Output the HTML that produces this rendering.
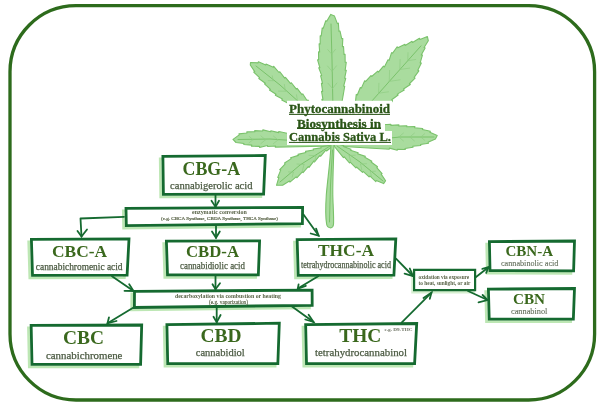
<!DOCTYPE html>
<html><head><meta charset="utf-8"><style>
html,body{margin:0;padding:0;background:#fff;width:600px;height:407px;overflow:hidden}
svg{display:block;will-change:transform}
</style></head><body><svg width="600" height="407" viewBox="0 0 600 407"><rect x="10" y="5.7" width="584.6" height="394.3" rx="66" ry="66" fill="none" stroke="#2d6b1c" stroke-width="3.3"/><defs><filter id="lb" x="-5%" y="-5%" width="110%" height="110%"><feGaussianBlur stdDeviation="0.35"/></filter></defs><g filter="url(#lb)"><path d="M330.8,14.4 L326.75,21.25 L325.76,20.76 L323.2,28.42 L322.22,27.93 L321.24,36.04 L320.16,35.82 L320.21,43.92 L319.11,43.84 L319.62,51.92 L318.53,51.76 L318.64,59.73 L317.56,59.89 L319.83,67.64 L318.74,67.81 L321.67,75.39 L320.6,75.66 L322.53,83.36 L321.43,83.36 L322.64,91.35 L321.54,91.39 L322.96,99.34 L321.86,99.39 L333,145 L338,125 L344.73,86.28 L343.64,86.14 L345.74,78.34 L344.65,78.2 L346.27,70.27 L345.17,70.27 L346.27,62.27 L345.17,62.27 L345.07,54.23 L344.0,54.51 L343.53,46.53 L342.43,46.63 L342.81,38.57 L341.72,38.66 L340.02,31.13 L338.94,31.31 L338.37,23.14 L337.36,23.58 L334.5,16.1 Z" fill="#a9dc9e" stroke="#7ac26b" stroke-width="1.1" stroke-linejoin="round"/><path d="M331,24 L332,60 L333,110" fill="none" stroke="#7ac26b" stroke-width="1" stroke-linecap="round"/><path d="M332.5,88.5 L336.9,83.0" stroke="#8fcd82" stroke-width="0.7" fill="none" stroke-linecap="round"/><path d="M332.5,88.5 L327.9,83.2" stroke="#8fcd82" stroke-width="0.7" fill="none" stroke-linecap="round"/><path d="M332.1,71.3 L336.5,65.8" stroke="#8fcd82" stroke-width="0.7" fill="none" stroke-linecap="round"/><path d="M332.1,71.3 L327.5,66.0" stroke="#8fcd82" stroke-width="0.7" fill="none" stroke-linecap="round"/><path d="M331.7,54.1 L335.4,49.4" stroke="#8fcd82" stroke-width="0.7" fill="none" stroke-linecap="round"/><path d="M331.7,54.1 L327.7,49.6" stroke="#8fcd82" stroke-width="0.7" fill="none" stroke-linecap="round"/><path d="M250.5,62.5 L258.05,62.84 L258.43,61.81 L265.76,65.08 L265.97,64.0 L273.35,67.31 L273.74,66.29 L279.02,72.49 L279.8,71.71 L284.72,78.12 L285.46,77.31 L290.61,83.53 L291.36,82.72 L296.34,89.11 L297.11,88.32 L301.98,94.65 L302.82,93.94 L307.19,100.72 L308.03,100.0 L333,145 L328,145 L293.9,110.12 L294.68,109.34 L288.21,104.5 L288.99,103.72 L281.76,99.97 L282.41,99.08 L275.34,95.19 L276.0,94.31 L269.46,89.93 L270.44,89.44 L264.53,83.95 L265.34,83.22 L258.8,78.54 L259.51,77.7 L253.73,72.09 L254.74,71.66 L250.3,65 Z" fill="#a9dc9e" stroke="#7ac26b" stroke-width="1.1" stroke-linejoin="round"/><path d="M256,66 L280,85 L300,103 L325,135" fill="none" stroke="#7ac26b" stroke-width="1" stroke-linecap="round"/><path d="M297.6,101.7 L296.5,94.8" stroke="#8fcd82" stroke-width="0.7" fill="none" stroke-linecap="round"/><path d="M297.6,101.7 L290.7,101.6" stroke="#8fcd82" stroke-width="0.7" fill="none" stroke-linecap="round"/><path d="M285.4,91.2 L284.3,84.3" stroke="#8fcd82" stroke-width="0.7" fill="none" stroke-linecap="round"/><path d="M285.4,91.2 L278.4,91.1" stroke="#8fcd82" stroke-width="0.7" fill="none" stroke-linecap="round"/><path d="M273.1,80.7 L272.3,75.8" stroke="#8fcd82" stroke-width="0.7" fill="none" stroke-linecap="round"/><path d="M273.1,80.7 L268.2,80.6" stroke="#8fcd82" stroke-width="0.7" fill="none" stroke-linecap="round"/><path d="M427.4,36.6 L419.94,39.42 L419.48,38.31 L412.53,42.45 L412.08,41.34 L405.17,45.41 L404.98,44.23 L397.85,47.75 L397.19,46.75 L392.63,53.19 L391.55,52.66 L389.1,60.37 L388.02,59.84 L384.38,66.88 L383.48,66.09 L378.39,72.2 L377.74,71.2 L371.66,76.53 L371.01,75.53 L365.69,81.43 L364.7,80.76 L361.36,88.13 L360.33,87.52 L357.3,95.02 L356.26,94.41 L355.38,102.67 L354.29,102.18 L335,145 L340,145 L377.72,118.86 L376.9,117.99 L383.54,113.37 L382.72,112.5 L389.36,107.88 L388.53,107.01 L392.53,100.65 L391.68,99.81 L398.14,94.95 L397.29,94.11 L404.27,89.96 L403.52,89.03 L410.31,84.48 L409.35,83.76 L415.1,78.07 L414.14,77.35 L418.87,70.86 L417.8,70.31 L421.35,63.08 L420.16,62.91 L422.42,55.15 L421.23,54.99 L425.14,48.1 L424.09,47.51 L428.3,40.7 Z" fill="#a9dc9e" stroke="#7ac26b" stroke-width="1.1" stroke-linejoin="round"/><path d="M421,45.9 L395,75 L371,102 L345,130" fill="none" stroke="#7ac26b" stroke-width="1" stroke-linecap="round"/><path d="M378.6,93.2 L388.5,91.8" stroke="#8fcd82" stroke-width="0.7" fill="none" stroke-linecap="round"/><path d="M378.6,93.2 L378.9,83.2" stroke="#8fcd82" stroke-width="0.7" fill="none" stroke-linecap="round"/><path d="M389.2,81.4 L400.1,79.8" stroke="#8fcd82" stroke-width="0.7" fill="none" stroke-linecap="round"/><path d="M389.2,81.4 L389.6,70.4" stroke="#8fcd82" stroke-width="0.7" fill="none" stroke-linecap="round"/><path d="M399.8,69.5 L409.7,68.1" stroke="#8fcd82" stroke-width="0.7" fill="none" stroke-linecap="round"/><path d="M399.8,69.5 L400.1,59.5" stroke="#8fcd82" stroke-width="0.7" fill="none" stroke-linecap="round"/><path d="M407.8,60.7 L415.7,59.5" stroke="#8fcd82" stroke-width="0.7" fill="none" stroke-linecap="round"/><path d="M407.8,60.7 L408.0,52.7" stroke="#8fcd82" stroke-width="0.7" fill="none" stroke-linecap="round"/><path d="M233,139.4 L239.24,134.91 L238.97,133.84 L247.0,132.98 L246.74,131.92 L254.84,131.73 L254.72,130.63 L262.72,130.96 L262.84,129.86 L270.68,131.78 L270.8,130.69 L278.64,132.6 L278.75,131.5 L333,143 L333,146 L275.33,147.12 L275.46,146.03 L267.56,146.52 L267.43,145.43 L259.61,147.43 L259.49,146.34 L251.53,146.2 L251.79,145.13 L243.77,144.56 L243.95,143.48 L236,142.5 Z" fill="#a9dc9e" stroke="#7ac26b" stroke-width="1.1" stroke-linejoin="round"/><path d="M238,139.5 L270,139 L300,141 L330,144" fill="none" stroke="#7ac26b" stroke-width="1" stroke-linecap="round"/><path d="M278.0,139.9 L273.4,136.0" stroke="#8fcd82" stroke-width="0.7" fill="none" stroke-linecap="round"/><path d="M278.0,139.9 L273.4,143.7" stroke="#8fcd82" stroke-width="0.7" fill="none" stroke-linecap="round"/><path d="M265.5,139.8 L260.9,135.9" stroke="#8fcd82" stroke-width="0.7" fill="none" stroke-linecap="round"/><path d="M265.5,139.8 L260.9,143.6" stroke="#8fcd82" stroke-width="0.7" fill="none" stroke-linecap="round"/><path d="M253.0,139.7 L249.2,136.4" stroke="#8fcd82" stroke-width="0.7" fill="none" stroke-linecap="round"/><path d="M253.0,139.7 L249.1,142.8" stroke="#8fcd82" stroke-width="0.7" fill="none" stroke-linecap="round"/><path d="M437.2,135.4 L429.85,132.22 L430.33,131.23 L422.45,129.52 L422.7,128.45 L414.65,127.73 L414.9,126.66 L406.76,126.78 L406.87,125.69 L398.8,126.0 L398.91,124.91 L390.84,125.34 L390.91,124.25 L382.86,124.79 L382.93,123.69 L335,143 L335,146 L389.27,149.23 L389.42,148.14 L397.2,150.31 L397.34,149.22 L405.3,149.48 L405.01,148.42 L413.0,147.31 L412.71,146.25 L420.76,145.55 L420.53,144.48 L428.55,143.21 L428.07,142.22 L435.4,139 Z" fill="#a9dc9e" stroke="#7ac26b" stroke-width="1.1" stroke-linejoin="round"/><path d="M434,137 L400,137 L370,140 L336,144" fill="none" stroke="#7ac26b" stroke-width="1" stroke-linecap="round"/><path d="M398.8,137.0 L403.4,140.9" stroke="#8fcd82" stroke-width="0.7" fill="none" stroke-linecap="round"/><path d="M398.8,137.0 L403.4,133.1" stroke="#8fcd82" stroke-width="0.7" fill="none" stroke-linecap="round"/><path d="M409.8,137.0 L414.4,140.9" stroke="#8fcd82" stroke-width="0.7" fill="none" stroke-linecap="round"/><path d="M409.8,137.0 L414.4,133.1" stroke="#8fcd82" stroke-width="0.7" fill="none" stroke-linecap="round"/><path d="M420.8,137.0 L424.6,140.2" stroke="#8fcd82" stroke-width="0.7" fill="none" stroke-linecap="round"/><path d="M420.8,137.0 L424.6,133.8" stroke="#8fcd82" stroke-width="0.7" fill="none" stroke-linecap="round"/><path d="M276.5,185.3 L278.81,177.63 L277.74,177.36 L280.8,169.89 L279.73,169.61 L285.27,163.9 L284.55,163.07 L291.3,158.64 L290.58,157.81 L298.43,155.39 L298.02,154.36 L305.84,152.44 L305.51,151.39 L313.47,150.06 L313.15,149.01 L321.13,147.84 L320.88,146.77 L330,145.4 L333,146 L326.53,150.95 L325.8,150.13 L320.57,156.29 L319.84,155.47 L314.74,161.71 L313.97,160.93 L309.03,167.32 L308.26,166.53 L303.03,172.7 L302.34,171.85 L296.83,177.76 L296.14,176.9 L289.95,182.05 L289.41,181.09 L282.6,185.3 Z" fill="#a9dc9e" stroke="#7ac26b" stroke-width="1.1" stroke-linejoin="round"/><path d="M280,182 L300,165 L330,146" fill="none" stroke="#7ac26b" stroke-width="1" stroke-linecap="round"/><path d="M316.0,155.8 L309.0,155.3" stroke="#8fcd82" stroke-width="0.7" fill="none" stroke-linecap="round"/><path d="M316.0,155.8 L314.3,162.5" stroke="#8fcd82" stroke-width="0.7" fill="none" stroke-linecap="round"/><path d="M304.0,164.5 L297.0,164.0" stroke="#8fcd82" stroke-width="0.7" fill="none" stroke-linecap="round"/><path d="M304.0,164.5 L302.3,171.3" stroke="#8fcd82" stroke-width="0.7" fill="none" stroke-linecap="round"/><path d="M293.4,172.2 L288.5,171.9" stroke="#8fcd82" stroke-width="0.7" fill="none" stroke-linecap="round"/><path d="M293.4,172.2 L292.2,177.1" stroke="#8fcd82" stroke-width="0.7" fill="none" stroke-linecap="round"/><path d="M385.6,180.8 L381.16,174.14 L382.1,173.56 L376.79,167.57 L377.57,166.79 L371.11,161.94 L371.88,161.16 L364.82,157.34 L365.31,156.36 L357.65,153.79 L358.14,152.8 L350.5,150.2 L350.99,149.22 L343.35,146.6 L343.85,145.62 L335.7,143.4 L334,146 L343.43,157.56 L344.3,156.88 L349.48,163.0 L350.16,162.14 L355.87,167.91 L356.49,166.99 L362.53,172.35 L363.14,171.43 L369.11,176.86 L369.74,175.96 L375.83,181.56 L376.21,180.52 L383.6,183.6 Z" fill="#a9dc9e" stroke="#7ac26b" stroke-width="1.1" stroke-linejoin="round"/><path d="M337,146 L360,162 L383,181" fill="none" stroke="#7ac26b" stroke-width="1" stroke-linecap="round"/><path d="M349.2,155.5 L350.6,161.3" stroke="#8fcd82" stroke-width="0.7" fill="none" stroke-linecap="round"/><path d="M349.2,155.5 L355.2,155.2" stroke="#8fcd82" stroke-width="0.7" fill="none" stroke-linecap="round"/><path d="M360.5,164.0 L361.8,169.8" stroke="#8fcd82" stroke-width="0.7" fill="none" stroke-linecap="round"/><path d="M360.5,164.0 L366.5,163.7" stroke="#8fcd82" stroke-width="0.7" fill="none" stroke-linecap="round"/><path d="M370.4,171.5 L371.5,176.4" stroke="#8fcd82" stroke-width="0.7" fill="none" stroke-linecap="round"/><path d="M370.4,171.5 L375.4,171.2" stroke="#8fcd82" stroke-width="0.7" fill="none" stroke-linecap="round"/><path d="M331,144 C330.5,160 327.5,180 326.3,195 C325.5,207 325.6,218 326.6,224 C327.3,228.5 332.8,229.5 333.5,224.5 C334,218 333,205 332.8,195 C332.6,180 333.6,160 334,144 Z" fill="#a9dc9e" stroke="#7ac26b" stroke-width="1.1"/><path d="M332.5,150 L330.5,185 L329.5,222" fill="none" stroke="#7ac26b" stroke-width="1" stroke-linecap="round"/></g><rect x="287" y="100.8" width="105" height="16.200000000000003" fill="#fff"/><rect x="296" y="117" width="89" height="14" fill="#fff"/><rect x="287" y="131" width="105" height="14" fill="#fff"/><text x="339.5" y="113.3" font-family="Liberation Serif" font-size="12.5" font-weight="bold" fill="#2a5517" text-anchor="middle" textLength="101" lengthAdjust="spacingAndGlyphs" stroke="#2a5517" stroke-width="0.3">Phytocannabinoid</text><text x="339" y="127.5" font-family="Liberation Serif" font-size="12.5" font-weight="bold" fill="#2a5517" text-anchor="middle" textLength="84" lengthAdjust="spacingAndGlyphs" stroke="#2a5517" stroke-width="0.3">Biosynthesis in</text><text x="340" y="141.2" font-family="Liberation Serif" font-size="12.5" font-weight="bold" fill="#2a5517" text-anchor="middle" textLength="102" lengthAdjust="spacingAndGlyphs" stroke="#2a5517" stroke-width="0.3">Cannabis Sativa L.</text><rect x="289" y="113.9" width="101" height="1" fill="#2a5517"/><rect x="297" y="128" width="84" height="1" fill="#2a5517"/><rect x="289" y="141.9" width="102" height="1" fill="#2a5517"/><path d="M160.20,158.90 L262.60,158.00 L260.90,196.60 L160.70,196.80 Z" fill="none" stroke="#bde7b4" stroke-width="2.7"/><path d="M162.90,156.40 L265.30,155.50 L263.60,194.10 L163.40,194.30 Z" fill="#fff" stroke="#156a30" stroke-width="2.8" stroke-linejoin="miter"/><path d="M123.30,210.90 L299.90,209.80 L299.70,226.10 L123.60,228.10 Z" fill="none" stroke="#bde7b4" stroke-width="2.7"/><path d="M126.00,208.40 L302.60,207.30 L302.40,223.60 L126.30,225.60 Z" fill="#fff" stroke="#156a30" stroke-width="2.8" stroke-linejoin="miter"/><path d="M28.70,241.90 L126.30,241.30 L124.40,277.60 L29.80,277.80 Z" fill="none" stroke="#bde7b4" stroke-width="2.7"/><path d="M31.40,239.40 L129.00,238.80 L127.10,275.10 L32.50,275.30 Z" fill="#fff" stroke="#156a30" stroke-width="2.8" stroke-linejoin="miter"/><path d="M163.70,243.70 L256.90,243.30 L255.65,277.35 L164.80,277.30 Z" fill="none" stroke="#bde7b4" stroke-width="2.7"/><path d="M166.40,241.20 L259.60,240.80 L258.35,274.85 L167.50,274.80 Z" fill="#fff" stroke="#156a30" stroke-width="2.8" stroke-linejoin="miter"/><path d="M294.45,242.15 L393.10,241.30 L391.20,277.70 L295.50,277.80 Z" fill="none" stroke="#bde7b4" stroke-width="2.7"/><path d="M297.15,239.65 L395.80,238.80 L393.90,275.20 L298.20,275.30 Z" fill="#fff" stroke="#156a30" stroke-width="2.8" stroke-linejoin="miter"/><path d="M131.80,293.80 L309.40,292.60 L309.50,307.80 L131.70,310.00 Z" fill="none" stroke="#bde7b4" stroke-width="2.7"/><path d="M134.50,291.30 L312.10,290.10 L312.20,305.30 L134.40,307.50 Z" fill="#fff" stroke="#156a30" stroke-width="2.8" stroke-linejoin="miter"/><path d="M486.70,244.15 L571.80,243.50 L570.90,273.35 L487.30,273.10 Z" fill="none" stroke="#bde7b4" stroke-width="2.7"/><path d="M489.40,241.65 L574.50,241.00 L573.60,270.85 L490.00,270.60 Z" fill="#fff" stroke="#156a30" stroke-width="2.8" stroke-linejoin="miter"/><path d="M485.70,291.65 L571.80,291.00 L570.65,321.60 L486.50,321.60 Z" fill="none" stroke="#bde7b4" stroke-width="2.7"/><path d="M488.40,289.15 L574.50,288.50 L573.35,319.10 L489.20,319.10 Z" fill="#fff" stroke="#156a30" stroke-width="2.8" stroke-linejoin="miter"/><path d="M28.45,327.90 L139.00,327.50 L137.90,366.85 L29.30,366.80 Z" fill="none" stroke="#bde7b4" stroke-width="2.7"/><path d="M31.15,325.40 L141.70,325.00 L140.60,364.35 L32.00,364.30 Z" fill="#fff" stroke="#156a30" stroke-width="2.8" stroke-linejoin="miter"/><path d="M164.20,327.15 L276.60,325.70 L275.15,366.10 L165.00,366.10 Z" fill="none" stroke="#bde7b4" stroke-width="2.7"/><path d="M166.90,324.65 L279.30,323.20 L277.85,363.60 L167.70,363.60 Z" fill="#fff" stroke="#156a30" stroke-width="2.8" stroke-linejoin="miter"/><path d="M302.95,327.15 L414.00,326.00 L411.90,366.10 L303.80,366.10 Z" fill="none" stroke="#bde7b4" stroke-width="2.7"/><path d="M305.65,324.65 L416.70,323.50 L414.60,363.60 L306.50,363.60 Z" fill="#fff" stroke="#156a30" stroke-width="2.8" stroke-linejoin="miter"/><path d="M412.60,271.90 L473.60,271.90 L473.60,292.20 L412.60,292.20 Z" fill="none" stroke="#d6f0d0" stroke-width="2.7"/><path d="M414.10,269.90 L475.10,269.90 L475.10,290.20 L414.10,290.20 Z" fill="#fff" stroke="#156a30" stroke-width="2.2" stroke-linejoin="miter"/><path d="M215.5,195 L215.5,206.9" fill="none" stroke="#156a30" stroke-width="1.8" stroke-linecap="round" stroke-linejoin="round"/><path d="M211.5,200.8 L215.5,206.9 L219,200.8" fill="none" stroke="#156a30" stroke-width="1.8" stroke-linecap="round" stroke-linejoin="miter"/><path d="M124,216.8 L80.5,218.5 L81.5,236.5" fill="none" stroke="#156a30" stroke-width="1.8" stroke-linecap="round" stroke-linejoin="round"/><path d="M77.5,231 L81.5,236.5 L87,229.5" fill="none" stroke="#156a30" stroke-width="1.8" stroke-linecap="round" stroke-linejoin="miter"/><path d="M216,225 L216,237.8" fill="none" stroke="#156a30" stroke-width="1.8" stroke-linecap="round" stroke-linejoin="round"/><path d="M212,231.5 L216,237.8 L219.8,231.5" fill="none" stroke="#156a30" stroke-width="1.8" stroke-linecap="round" stroke-linejoin="miter"/><path d="M303.5,214.5 L318.6,235.6" fill="none" stroke="#156a30" stroke-width="1.8" stroke-linecap="round" stroke-linejoin="round"/><path d="M316.1,228.6 L318.6,235.6 L310.7,233.5" fill="none" stroke="#156a30" stroke-width="1.8" stroke-linecap="round" stroke-linejoin="miter"/><path d="M112,276.3 L133.5,291" fill="none" stroke="#156a30" stroke-width="1.8" stroke-linecap="round" stroke-linejoin="round"/><path d="M129.2,284.3 L133.5,291 L124.5,290.8" fill="none" stroke="#156a30" stroke-width="1.8" stroke-linecap="round" stroke-linejoin="miter"/><path d="M215.5,276 L215.5,289.2" fill="none" stroke="#156a30" stroke-width="1.8" stroke-linecap="round" stroke-linejoin="round"/><path d="M212.5,284.2 L215.5,289.2 L220,283.2" fill="none" stroke="#156a30" stroke-width="1.8" stroke-linecap="round" stroke-linejoin="miter"/><path d="M318.2,276.3 L297.8,288.6" fill="none" stroke="#156a30" stroke-width="1.8" stroke-linecap="round" stroke-linejoin="round"/><path d="M298.6,284.4 L297.8,288.6 L305.8,285.8" fill="none" stroke="#156a30" stroke-width="1.8" stroke-linecap="round" stroke-linejoin="miter"/><path d="M396,258.6 L413,276" fill="none" stroke="#156a30" stroke-width="1.8" stroke-linecap="round" stroke-linejoin="round"/><path d="M409.8,268.5 L413,276 L404.6,273.6" fill="none" stroke="#156a30" stroke-width="1.8" stroke-linecap="round" stroke-linejoin="miter"/><path d="M476,277 L488.5,267.2" fill="none" stroke="#156a30" stroke-width="1.8" stroke-linecap="round" stroke-linejoin="round"/><path d="M482.3,268.9 L488.5,267.2 L486.2,272.8" fill="none" stroke="#156a30" stroke-width="1.8" stroke-linecap="round" stroke-linejoin="miter"/><path d="M468,291 L487.5,300" fill="none" stroke="#156a30" stroke-width="1.8" stroke-linecap="round" stroke-linejoin="round"/><path d="M482.6,295 L487.5,300 L478.5,302.3" fill="none" stroke="#156a30" stroke-width="1.8" stroke-linecap="round" stroke-linejoin="miter"/><path d="M133.5,307.5 L107.5,323.2" fill="none" stroke="#156a30" stroke-width="1.8" stroke-linecap="round" stroke-linejoin="round"/><path d="M109,317.3 L107.5,323.2 L116.5,321" fill="none" stroke="#156a30" stroke-width="1.8" stroke-linecap="round" stroke-linejoin="miter"/><path d="M216.7,307.6 L216.7,322.2" fill="none" stroke="#156a30" stroke-width="1.8" stroke-linecap="round" stroke-linejoin="round"/><path d="M213.5,316.8 L216.7,322.2 L220.6,315" fill="none" stroke="#156a30" stroke-width="1.8" stroke-linecap="round" stroke-linejoin="miter"/><path d="M292,306.5 L313.5,322" fill="none" stroke="#156a30" stroke-width="1.8" stroke-linecap="round" stroke-linejoin="round"/><path d="M308.6,314.7 L313.5,322 L305.3,319.5" fill="none" stroke="#156a30" stroke-width="1.8" stroke-linecap="round" stroke-linejoin="miter"/><path d="M401.6,322.6 L431.5,292.7" fill="none" stroke="#156a30" stroke-width="1.8" stroke-linecap="round" stroke-linejoin="round"/><path d="M423.5,298 L431.5,292.7 L429.8,298.8" fill="none" stroke="#156a30" stroke-width="1.8" stroke-linecap="round" stroke-linejoin="miter"/><text x="211.3" y="174.6" font-family="Liberation Serif" font-size="19" font-weight="bold" fill="#3a681d" text-anchor="middle" textLength="57.5" lengthAdjust="spacingAndGlyphs">CBG-A</text><text x="211.3" y="188.6" font-family="Liberation Serif" font-size="11" font-weight="normal" fill="#4b5a42" text-anchor="middle" textLength="82.5" lengthAdjust="spacingAndGlyphs" stroke="#4b5a42" stroke-width="0.25">cannabigerolic acid</text><text x="219.4" y="214" font-family="Liberation Serif" font-size="6" font-weight="bold" fill="#5a6448" text-anchor="middle" textLength="54.7" lengthAdjust="spacingAndGlyphs">enzymatic conversion</text><text x="219.5" y="219.7" font-family="Liberation Serif" font-size="5" font-weight="normal" fill="#5a6448" text-anchor="middle" textLength="117" lengthAdjust="spacingAndGlyphs" stroke="#5a6448" stroke-width="0.2">(e.g. CBCA Synthase, CBDA Synthase, THCA Synthase)</text><text x="79.5" y="256.6" font-family="Liberation Serif" font-size="17.5" font-weight="bold" fill="#3a681d" text-anchor="middle" textLength="55" lengthAdjust="spacingAndGlyphs">CBC-A</text><text x="79.2" y="269.7" font-family="Liberation Serif" font-size="10" font-weight="normal" fill="#4b5a42" text-anchor="middle" textLength="86.7" lengthAdjust="spacingAndGlyphs" stroke="#4b5a42" stroke-width="0.25">cannabichromenic acid</text><text x="212.5" y="257" font-family="Liberation Serif" font-size="17.5" font-weight="bold" fill="#3a681d" text-anchor="middle" textLength="53" lengthAdjust="spacingAndGlyphs">CBD-A</text><text x="212.5" y="269" font-family="Liberation Serif" font-size="10" font-weight="normal" fill="#4b5a42" text-anchor="middle" textLength="65" lengthAdjust="spacingAndGlyphs" stroke="#4b5a42" stroke-width="0.25">cannabidiolic acid</text><text x="346" y="256.4" font-family="Liberation Serif" font-size="17.5" font-weight="bold" fill="#3a681d" text-anchor="middle" textLength="56" lengthAdjust="spacingAndGlyphs">THC-A</text><text x="346" y="268.2" font-family="Liberation Serif" font-size="10" font-weight="normal" fill="#4b5a42" text-anchor="middle" textLength="90" lengthAdjust="spacingAndGlyphs" stroke="#4b5a42" stroke-width="0.25">tetrahydrocannabinolic acid</text><text x="228" y="298" font-family="Liberation Serif" font-size="6.2" font-weight="bold" fill="#5a6448" text-anchor="middle" textLength="106" lengthAdjust="spacingAndGlyphs">decarboxylation via combustion or heating</text><text x="228.5" y="304" font-family="Liberation Serif" font-size="5.3" font-weight="normal" fill="#5a6448" text-anchor="middle" textLength="39" lengthAdjust="spacingAndGlyphs" stroke="#5a6448" stroke-width="0.15">(e.g. vaporization)</text><text x="418.6" y="278.5" font-family="Liberation Serif" font-size="6" font-weight="bold" fill="#5a6448" text-anchor="start" textLength="50.6" lengthAdjust="spacingAndGlyphs">oxidation via exposure</text><text x="418.6" y="284.5" font-family="Liberation Serif" font-size="6" font-weight="bold" fill="#5a6448" text-anchor="start" textLength="51.7" lengthAdjust="spacingAndGlyphs">to heat, sunlight, or air</text><text x="529.2" y="256" font-family="Liberation Serif" font-size="15" font-weight="bold" fill="#3a681d" text-anchor="middle" textLength="47.6" lengthAdjust="spacingAndGlyphs">CBN-A</text><text x="529.7" y="266" font-family="Liberation Serif" font-size="9" font-weight="normal" fill="#5f6b57" text-anchor="middle" textLength="57.5" lengthAdjust="spacingAndGlyphs" stroke="#5f6b57" stroke-width="0.1">cannabinolic acid</text><text x="529" y="303.6" font-family="Liberation Serif" font-size="15" font-weight="bold" fill="#3a681d" text-anchor="middle" textLength="32" lengthAdjust="spacingAndGlyphs">CBN</text><text x="529.2" y="314" font-family="Liberation Serif" font-size="9" font-weight="normal" fill="#5f6b57" text-anchor="middle" textLength="36.5" lengthAdjust="spacingAndGlyphs" stroke="#5f6b57" stroke-width="0.1">cannabinol</text><text x="83.5" y="344.3" font-family="Liberation Serif" font-size="19.5" font-weight="bold" fill="#3a681d" text-anchor="middle" textLength="41" lengthAdjust="spacingAndGlyphs">CBC</text><text x="84.2" y="358.5" font-family="Liberation Serif" font-size="11" font-weight="normal" fill="#4b5a42" text-anchor="middle" textLength="76.5" lengthAdjust="spacingAndGlyphs" stroke="#4b5a42" stroke-width="0.25">cannabichromene</text><text x="221" y="342" font-family="Liberation Serif" font-size="19.5" font-weight="bold" fill="#3a681d" text-anchor="middle" textLength="41" lengthAdjust="spacingAndGlyphs">CBD</text><text x="220.3" y="356" font-family="Liberation Serif" font-size="11" font-weight="normal" fill="#4b5a42" text-anchor="middle" textLength="49" lengthAdjust="spacingAndGlyphs" stroke="#4b5a42" stroke-width="0.25">cannabidiol</text><text x="360.3" y="342" font-family="Liberation Serif" font-size="19.5" font-weight="bold" fill="#3a681d" text-anchor="middle" textLength="42" lengthAdjust="spacingAndGlyphs">THC</text><text x="398.5" y="330.6" font-family="Liberation Serif" font-size="4" font-weight="bold" fill="#6a7060" text-anchor="middle" textLength="28" lengthAdjust="spacingAndGlyphs">e.g. D9-THC</text><text x="361" y="356" font-family="Liberation Serif" font-size="11" font-weight="normal" fill="#4b5a42" text-anchor="middle" textLength="92" lengthAdjust="spacingAndGlyphs" stroke="#4b5a42" stroke-width="0.25">tetrahydrocannabinol</text></svg></body></html>
